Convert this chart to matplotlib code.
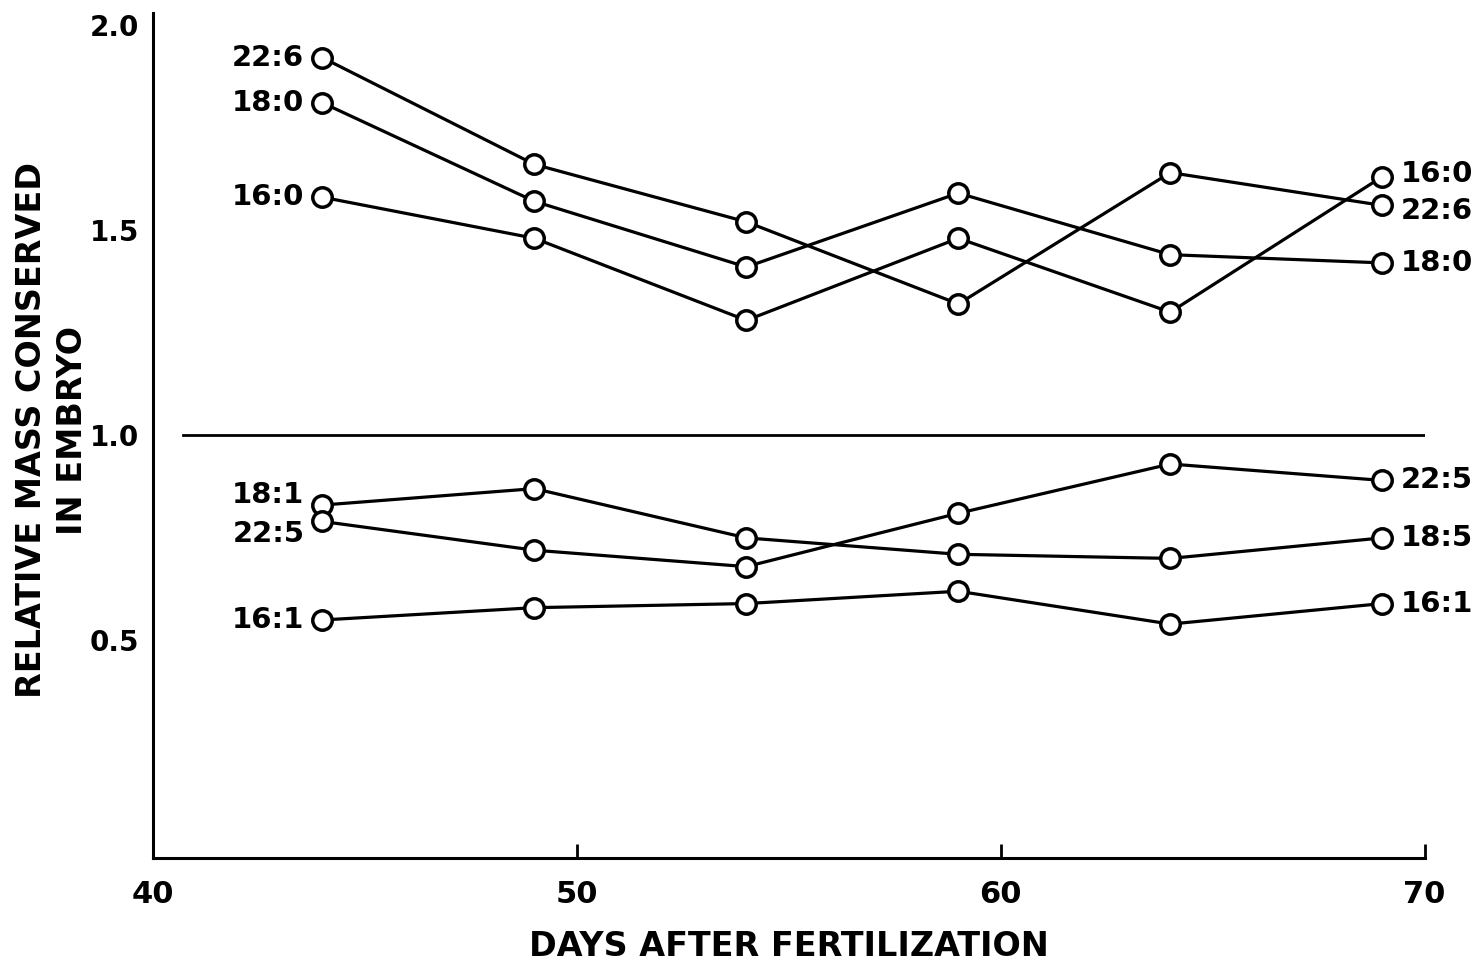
import matplotlib.pyplot as plt

days = [44, 49, 54, 59, 64, 69]

fa_22_6 = [1.92, 1.66, 1.52, 1.32, 1.64, 1.56]
fa_18_0 = [1.81, 1.57, 1.41, 1.59, 1.44, 1.42]
fa_16_0 = [1.58, 1.48, 1.28, 1.48, 1.30, 1.63]
fa_18_1 = [0.83, 0.87, 0.75, 0.71, 0.70, 0.75]
fa_22_5 = [0.79, 0.72, 0.68, 0.81, 0.93, 0.89]
fa_16_1 = [0.55, 0.58, 0.59, 0.62, 0.54, 0.59]

series = [fa_22_6, fa_18_0, fa_16_0, fa_18_1, fa_22_5, fa_16_1]
left_labels = ["22:6", "18:0", "16:0", "18:1", "22:5", "16:1"]
right_labels = ["22:6", "18:0", "16:0", "18:5", "22:5", "16:1"]
# small vertical nudges (points) where labels would collide
left_dy = [0, 0, 0, 7, -9, 0]
right_dy = [-4, 0, 2, 0, 0, 0]

fig = plt.figure(figsize=(14.84, 9.63), dpi=100)
ax = fig.add_axes([0.103, 0.109, 0.857, 0.878])

for vals, ll, rl, ldy, rdy in zip(series, left_labels, right_labels, left_dy, right_dy):
    ax.plot(days, vals, color="black", lw=2.3, marker="o", ms=14,
            mfc="white", mec="black", mew=2.5, zorder=3)
    ax.annotate(ll, (days[0], vals[0]), xytext=(-13, ldy), textcoords="offset points",
                ha="right", va="center", fontsize=21, fontweight="bold")
    ax.annotate(rl, (days[-1], vals[-1]), xytext=(13, rdy), textcoords="offset points",
                ha="left", va="center", fontsize=21, fontweight="bold")

# reference line at 1.0
ax.plot([40.7, 70], [1.0, 1.0], color="black", lw=2.0)

ax.set_xlim(40.15, 70)
ax.set_ylim(-0.03, 2.03)
ax.set_xticks([40, 50, 60, 70])
ax.set_yticks([0.5, 1.0, 1.5, 2.0])
ax.tick_params(axis="x", direction="in", length=10, width=2, labelsize=22, pad=16)
ax.tick_params(axis="y", length=0, labelsize=20, pad=10)
for lab in ax.get_xticklabels() + ax.get_yticklabels():
    lab.set_fontweight("bold")

ax.spines["top"].set_visible(False)
ax.spines["right"].set_visible(False)
ax.spines["left"].set_linewidth(2.2)
ax.spines["bottom"].set_linewidth(2.2)

ax.set_xlabel("DAYS AFTER FERTILIZATION", fontsize=24, fontweight="bold")
ax.xaxis.set_label_coords(0.5, -0.085)
ax.set_ylabel("RELATIVE MASS CONSERVED\nIN EMBRYO", fontsize=24, fontweight="bold",
              linespacing=1.3)
ax.yaxis.set_label_coords(-0.05, 0.506)

fig.savefig("out.png", dpi=100)
